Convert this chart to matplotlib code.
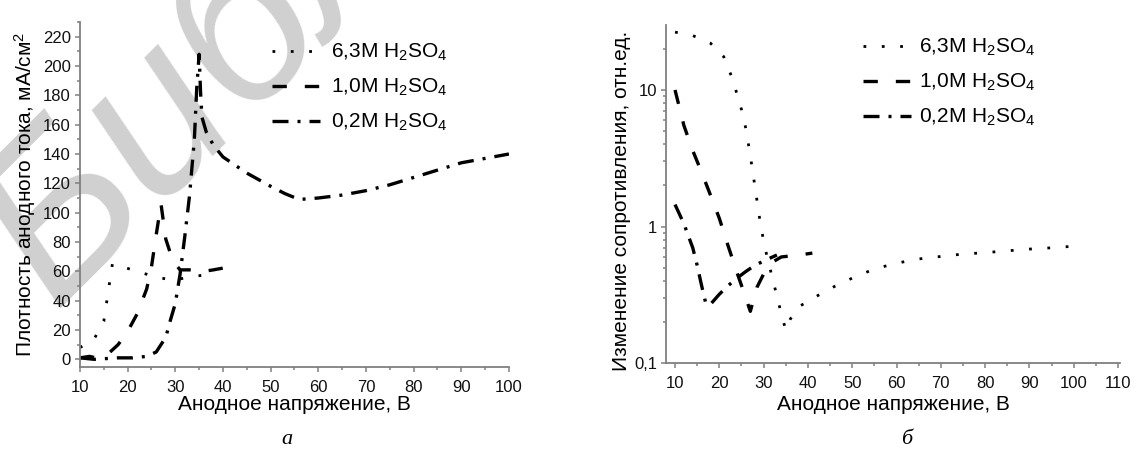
import matplotlib
matplotlib.use('Agg')
import matplotlib.pyplot as plt
from matplotlib.ticker import MultipleLocator, NullFormatter, LogLocator

plt.rcParams['font.family'] = ['Liberation Sans', 'DejaVu Sans']
plt.rcParams['mathtext.default'] = 'regular'

# --- (а) current density vs voltage ---
v_63 = [10, 13, 15, 15.6, 16.2, 16.8, 18, 22, 26, 29.5, 33, 37]
j_63 = [8, 14, 26, 39, 52, 65, 64, 60, 56, 54, 56, 58]

v_10 = [10, 12, 14, 16, 18, 20, 22, 24, 25, 26, 27, 28, 29, 30, 31, 33, 36, 38, 43]
j_10 = [1, 2, 0.5, 4, 10, 19, 31, 48, 63, 85, 106, 82, 72, 65, 61, 61, 60, 61, 64]

v_02 = [10, 13, 18, 21, 24, 26, 28, 29, 30, 31, 32, 33, 34, 34.5, 35, 35.3, 35.6, 36.5,
        38, 40, 45, 50, 53, 56, 60, 65, 70, 75, 80, 85, 90, 95, 100]
j_02 = [1, 0, 1, 1, 2, 5, 15, 27, 38, 58, 84, 112, 150, 185, 208, 182, 165, 155,
        146, 138, 127, 118, 113, 109, 110, 112, 115, 119, 124, 129, 134, 137, 140]

# --- (б) resistance change vs voltage ---
u_63 = [10, 14, 18, 21, 23, 25, 26, 27, 28, 29, 30, 31, 32, 33, 34, 35, 36, 38, 42,
        46, 50, 55, 60, 65, 70, 75, 80, 85, 90, 95, 99]
r_63 = [26.5, 25, 22, 17.5, 12, 7.2, 5.2, 3.3, 2.0, 1.2, 0.78, 0.56, 0.42, 0.31, 0.23,
        0.175, 0.21, 0.26, 0.31, 0.365, 0.42, 0.49, 0.54, 0.58, 0.605, 0.63, 0.645,
        0.665, 0.685, 0.70, 0.715]

u_10 = [10, 12, 14, 16, 18, 20, 22, 24, 26, 27, 28.5, 30, 32, 34, 36, 38, 41]
r_10 = [10, 5.5, 3.6, 2.5, 1.7, 1.15, 0.72, 0.46, 0.30, 0.24, 0.36, 0.45, 0.55,
        0.60, 0.61, 0.62, 0.64]

u_02 = [10, 12, 14, 15, 16, 17, 18, 20, 22, 24, 26, 28, 30, 33]
r_02 = [1.45, 1.05, 0.70, 0.52, 0.37, 0.27, 0.27, 0.32, 0.37, 0.42, 0.47, 0.52, 0.56, 0.62]

labels = ['6,3M H$_2$SO$_4$', '1,0M H$_2$SO$_4$', '0,2M H$_2$SO$_4$']

DOT = dict(color='black', lw=2.0, dashes=(1.0, 5.6), dash_capstyle='butt')
DASH = dict(color='black', lw=2.4, dashes=(4.3, 5.4), dash_capstyle='butt')
DASHDOT = dict(color='black', lw=2.4, dashes=(4.8, 2.7, 0.9, 2.7), dash_capstyle='butt')

AX_COL = '#808080'
TXT = 15

fig = plt.figure(figsize=(11.36, 4.49), dpi=100)

# watermark
fig.text(0.047, 0.312, 'Библ', rotation=45, rotation_mode='anchor',
         ha='left', va='baseline', fontsize=160, style='italic',
         color='#d0d0d0', zorder=-5)

ax1 = fig.add_axes([0.0704, 0.1826, 0.3776, 0.769])
ax2 = fig.add_axes([0.5863, 0.1909, 0.3996, 0.7535])


def style(ax):
    ax.set_facecolor('none')
    for s in ['top', 'right']:
        ax.spines[s].set_visible(False)
    for s in ['left', 'bottom']:
        ax.spines[s].set_color(AX_COL)
        ax.spines[s].set_linewidth(1.3)
    ax.tick_params(which='both', direction='out', color=AX_COL, width=1.1,
                   labelsize=12, labelcolor='#111111')
    ax.tick_params(which='major', length=3.5)
    ax.tick_params(which='minor', length=2.2)
    ax.tick_params(axis='x', which='both', pad=6)
    ax.tick_params(axis='y', which='both', pad=3)


ax1.plot(v_63, j_63, label=labels[0], **DOT)
ax1.plot(v_10, j_10, label=labels[1], **DASH)
ax1.plot(v_02, j_02, label=labels[2], **DASHDOT)
ax1.set_xlim(10, 100)
ax1.set_ylim(-5.25, 230.2)
ax1.xaxis.set_major_locator(MultipleLocator(10))
ax1.xaxis.set_minor_locator(MultipleLocator(5))
ax1.yaxis.set_major_locator(MultipleLocator(20))
ax1.yaxis.set_minor_locator(MultipleLocator(10))
style(ax1)
ax1.set_xlabel('Анодное напряжение, В', fontsize=TXT)
ax1.set_ylabel('Плотность анодного тока, мА/см$^2$', fontsize=TXT)
ax1.xaxis.set_label_coords(0.5, -0.081)
ax1.yaxis.set_label_coords(-0.098, 0.5)
ax1.legend(loc='upper left', bbox_to_anchor=(272 / 1136, 1 - 42 / 449),
           bbox_transform=fig.transFigure, frameon=False, fontsize=TXT,
           handlelength=2.3, handletextpad=0.55, labelspacing=0.66,
           borderpad=0, borderaxespad=0)

ax2.plot(u_63, r_63, label=labels[0], **DOT)
ax2.plot(u_10, r_10, label=labels[1], **DASH)
ax2.plot(u_02, r_02, label=labels[2], **DASHDOT)
ax2.set_yscale('log')
ax2.set_xlim(7.97, 110.45)
ax2.set_ylim(0.1, 29.9)
ax2.xaxis.set_major_locator(MultipleLocator(10))
ax2.xaxis.set_minor_locator(MultipleLocator(5))
ax2.set_yticks([0.1, 1, 10], ['0,1', '1', '10'])
ax2.yaxis.set_minor_locator(LogLocator(base=10, subs=range(2, 10)))
ax2.yaxis.set_minor_formatter(NullFormatter())
style(ax2)
ax2.set_xlabel('Анодное напряжение, В', fontsize=TXT)
ax2.set_ylabel('Изменение сопротивления, отн.ед.', fontsize=TXT)
ax2.xaxis.set_label_coords(0.5, -0.094)
ax2.yaxis.set_label_coords(-0.077, 0.48)
ax2.legend(loc='upper left', bbox_to_anchor=(863 / 1136, 1 - 37 / 449),
           bbox_transform=fig.transFigure, frameon=False, fontsize=TXT,
           handlelength=2.3, handletextpad=0.4, labelspacing=0.66,
           borderpad=0, borderaxespad=0)

fig.text(287 / 1136, 1 - 444 / 449, 'а', ha='center', va='baseline', fontsize=16,
         family='Liberation Serif', style='italic')
fig.text(907 / 1136, 1 - 444 / 449, 'б', ha='center', va='baseline', fontsize=16,
         family='Liberation Serif', style='italic')

fig.savefig('out.png', dpi=100)
